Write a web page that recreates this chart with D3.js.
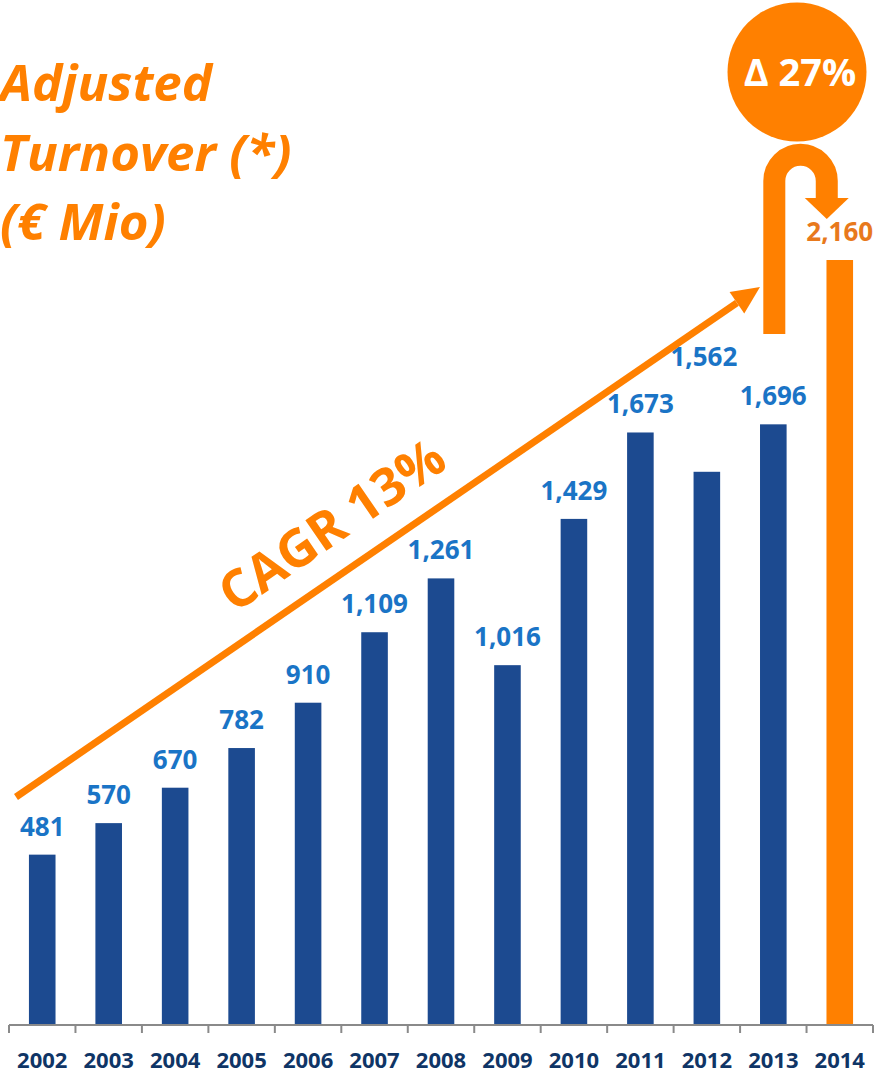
<!DOCTYPE html>
<html>
<head>
<meta charset="utf-8">
<script src="https://cdnjs.cloudflare.com/ajax/libs/d3/7.8.5/d3.min.js"></script>
<style>
body { margin: 0; background: #fff; }
svg { display: block; font-family: "Open Sans", Lato, sans-serif; }
</style>
</head>
<body>
<div id="chart"></div>
<script>
var years = ["2002", "2003", "2004", "2005", "2006", "2007", "2008", "2009", "2010", "2011", "2012", "2013", "2014"]
var turnover = [481, 570, 670, 782, 910, 1109, 1261, 1016, 1429, 1673, 1562, 1696, 2160]
var titleLines = ["Adjusted", "Turnover (*)", "(€ Mio)"]
var cagrLabel = "CAGR 13%"
var deltaLabel = "Δ 27%"

var width = 874, height = 1074
var blue = "#1c4a90", orange = "#ff8000"

var svg = d3.select("#chart").append("svg")
	.attr("width", width).attr("height", height)

var x = d3.scaleBand().domain(years).range([9, 873]).padding(0)
var y = d3.scaleLinear().domain([0, 2160]).range([1025, 260])
var barW = x.bandwidth() * 0.4
var fmt = d3.format(",")

// the 2012 label was dragged up in the original slide
var labelNudge = { "2012": { dx: -3, dy: -87 } }

// bars
svg.selectAll(".bar").data(years).enter().append("rect")
	.attr("class", "bar")
	.attr("x", function(d){ return x(d) + (x.bandwidth() - barW) / 2 })
	.attr("y", function(d, i){ return y(turnover[i]) })
	.attr("width", barW)
	.attr("height", function(d, i){ return y(0) - y(turnover[i]) })
	.attr("fill", function(d, i){ return i == years.length - 1 ? orange : blue })

// value labels
svg.selectAll(".val").data(years).enter().append("text")
	.attr("class", "val")
	.attr("x", function(d){ return x(d) + x.bandwidth() / 2 + (labelNudge[d] ? labelNudge[d].dx : 0) })
	.attr("y", function(d, i){ return y(turnover[i]) - 19 + (labelNudge[d] ? labelNudge[d].dy : 0) })
	.attr("text-anchor", "middle")
	.style("font-size", "26px").style("font-weight", "bold")
	.attr("fill", function(d, i){ return i == years.length - 1 ? "#e8791c" : "#1a74c6" })
	.text(function(d, i){ return fmt(turnover[i]) })

// axis: line plus ticks on band edges
var axis = svg.append("g")
axis.append("line")
	.attr("x1", x.range()[0]).attr("x2", x.range()[1])
	.attr("y1", y(0)).attr("y2", y(0))
	.attr("stroke", "#8a8a8a").attr("stroke-width", 2)
axis.selectAll(".tick").data(years.concat(["end"])).enter().append("line")
	.attr("x1", function(d){ return d == "end" ? x.range()[1] : x(d) })
	.attr("x2", function(d){ return d == "end" ? x.range()[1] : x(d) })
	.attr("y1", y(0)).attr("y2", y(0) + 8)
	.attr("stroke", "#8a8a8a").attr("stroke-width", 2)
axis.selectAll(".year").data(years).enter().append("text")
	.attr("x", function(d){ return x(d) + x.bandwidth() / 2 })
	.attr("y", 1068)
	.attr("text-anchor", "middle")
	.style("font-size", "22px").style("font-weight", "bold")
	.attr("fill", "#0f3566")
	.text(function(d){ return d })

// title
svg.append("text")
	.attr("x", 0).attr("y", 101)
	.style("font-size", "51px").style("font-weight", "bold").style("font-style", "italic")
	.attr("fill", orange)
	.selectAll("tspan").data(titleLines).enter().append("tspan")
	.attr("x", 0).attr("dy", function(d, i){ return i == 0 ? 0 : 69.5 })
	.text(function(d){ return d })

// CAGR arrow
var a0 = [16, 797], a1 = [760, 287]
var ang = Math.atan2(a1[1] - a0[1], a1[0] - a0[0])
var headLen = 28, headW = 13
var base = [a1[0] - headLen * Math.cos(ang), a1[1] - headLen * Math.sin(ang)]
svg.append("line")
	.attr("x1", a0[0]).attr("y1", a0[1]).attr("x2", base[0]).attr("y2", base[1])
	.attr("stroke", orange).attr("stroke-width", 7)
svg.append("polygon")
	.attr("points", [a1,
		[base[0] + headW * Math.sin(ang), base[1] - headW * Math.cos(ang)],
		[base[0] - headW * Math.sin(ang), base[1] + headW * Math.cos(ang)]].map(function(p){ return p.join(",") }).join(" "))
	.attr("fill", orange)
svg.append("text")
	.attr("transform", "translate(342,540) rotate(" + (ang * 180 / Math.PI) + ")")
	.attr("text-anchor", "middle")
	.style("font-size", "52px").style("font-weight", "bold")
	.attr("fill", orange)
	.text(cagrLabel)

// U-turn arrow from 2013 to 2014
var xl = x("2013") + x.bandwidth() / 2 + 1
var xr = x("2014") + x.bandwidth() / 2 - 13
var r = (xr - xl) / 2
svg.append("path")
	.attr("d", "M" + xl + ",334 L" + xl + ",181 A" + r + "," + r + " 0 0 1 " + xr + ",181 L" + xr + ",200")
	.attr("fill", "none").attr("stroke", orange).attr("stroke-width", 22)
svg.append("polygon")
	.attr("points", [[xr - 22, 198], [xr + 22, 198], [xr, 219]].map(function(p){ return p.join(",") }).join(" "))
	.attr("fill", orange)

// delta bubble
svg.append("circle").attr("cx", 797).attr("cy", 72).attr("r", 69.5).attr("fill", orange)
svg.append("text")
	.attr("x", 800).attr("y", 86)
	.attr("text-anchor", "middle")
	.style("font-size", "38px").style("font-weight", "bold")
	.attr("fill", "#fff")
	.text(deltaLabel)
</script>
</body>
</html>
